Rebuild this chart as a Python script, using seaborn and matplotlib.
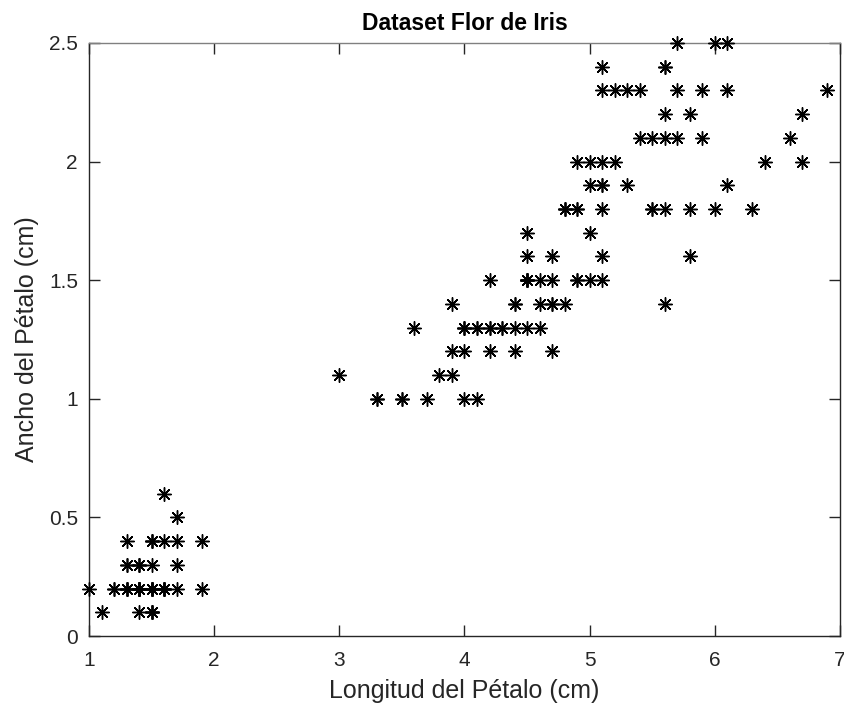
import matplotlib
matplotlib.use("Agg")
import matplotlib.pyplot as plt
import seaborn as sns
import pandas as pd

petal_length = [
    1.4, 1.4, 1.3, 1.5, 1.4, 1.7, 1.4, 1.5, 1.4, 1.5,
    1.5, 1.6, 1.4, 1.1, 1.2, 1.5, 1.3, 1.4, 1.7, 1.5,
    1.7, 1.5, 1.0, 1.7, 1.9, 1.6, 1.6, 1.5, 1.4, 1.6,
    1.6, 1.5, 1.5, 1.4, 1.5, 1.2, 1.3, 1.5, 1.3, 1.5,
    1.3, 1.3, 1.3, 1.6, 1.9, 1.4, 1.6, 1.4, 1.5, 1.4,
    4.7, 4.5, 4.9, 4.0, 4.6, 4.5, 4.7, 3.3, 4.6, 3.9,
    3.5, 4.2, 4.0, 4.7, 3.6, 4.4, 4.5, 4.1, 4.5, 3.9,
    4.8, 4.0, 4.9, 4.7, 4.3, 4.4, 4.8, 5.0, 4.5, 3.5,
    3.8, 3.7, 3.9, 5.1, 4.5, 4.5, 4.7, 4.4, 4.1, 4.0,
    4.4, 4.6, 4.0, 3.3, 4.2, 4.2, 4.2, 4.3, 3.0, 4.1,
    6.0, 5.1, 5.9, 5.6, 5.8, 6.6, 4.5, 6.3, 5.8, 6.1,
    5.1, 5.3, 5.5, 5.0, 5.1, 5.3, 5.5, 6.7, 6.9, 5.0,
    5.7, 4.9, 6.7, 4.9, 5.7, 6.0, 4.8, 4.9, 5.6, 5.8,
    6.1, 6.4, 5.6, 5.1, 5.6, 6.1, 5.6, 5.5, 4.8, 5.4,
    5.6, 5.1, 5.1, 5.9, 5.7, 5.2, 5.0, 5.2, 5.4, 5.1,
]
petal_width = [
    0.2, 0.2, 0.2, 0.2, 0.2, 0.4, 0.3, 0.2, 0.2, 0.1,
    0.2, 0.2, 0.1, 0.1, 0.2, 0.4, 0.4, 0.3, 0.3, 0.3,
    0.2, 0.4, 0.2, 0.5, 0.2, 0.2, 0.4, 0.2, 0.2, 0.2,
    0.2, 0.4, 0.1, 0.2, 0.1, 0.2, 0.2, 0.1, 0.2, 0.2,
    0.3, 0.3, 0.2, 0.6, 0.4, 0.3, 0.2, 0.2, 0.2, 0.2,
    1.4, 1.5, 1.5, 1.3, 1.5, 1.3, 1.6, 1.0, 1.3, 1.4,
    1.0, 1.5, 1.0, 1.4, 1.3, 1.4, 1.5, 1.0, 1.5, 1.1,
    1.8, 1.3, 1.5, 1.2, 1.3, 1.4, 1.4, 1.7, 1.5, 1.0,
    1.1, 1.0, 1.2, 1.6, 1.5, 1.6, 1.5, 1.3, 1.3, 1.3,
    1.2, 1.4, 1.2, 1.0, 1.3, 1.2, 1.3, 1.3, 1.1, 1.3,
    2.5, 1.9, 2.1, 1.8, 2.2, 2.1, 1.7, 1.8, 1.8, 2.5,
    2.0, 1.9, 2.1, 2.0, 2.4, 2.3, 1.8, 2.2, 2.3, 1.5,
    2.3, 2.0, 2.0, 1.8, 2.1, 1.8, 1.8, 1.8, 2.1, 1.6,
    1.9, 2.0, 2.2, 1.5, 1.4, 2.3, 2.4, 1.8, 1.8, 2.1,
    2.4, 2.3, 1.9, 2.3, 2.5, 2.3, 1.9, 2.0, 2.3, 1.8,
]
x_ticks = [1, 2, 3, 4, 5, 6, 7]
y_ticks = [0, 0.5, 1, 1.5, 2, 2.5]
y_tick_labels = ["0", "0.5", "1", "1.5", "2", "2.5"]
title = "Dataset Flor de Iris"
x_label = "Longitud del Pétalo (cm)"
y_label = "Ancho del Pétalo (cm)"

df = pd.DataFrame({"largo": petal_length, "ancho": petal_width})

sns.set_theme(style="white")
plt.rcParams["font.family"] = ["Liberation Sans", "DejaVu Sans"]
txt = "#262626"

fig = plt.figure(figsize=(8.45, 7.09), dpi=100)
ax = fig.add_axes([89 / 845, 1 - 636 / 709, (840 - 89) / 845, (636 - 43) / 709])

sns.scatterplot(data=df, x="largo", y="ancho", ax=ax, marker=(8, 2, 0),
                color="black", s=95, linewidth=1.05, clip_on=False, zorder=3)

ax.set_xlim(1, 7)
ax.set_ylim(0, 2.5)
ax.set_xticks(x_ticks)
ax.set_xticklabels([str(t) for t in x_ticks])
ax.set_yticks(y_ticks)
ax.set_yticklabels(y_tick_labels)
ax.tick_params(direction="in", length=8, width=1, colors=txt, labelsize=15,
               top=True, right=True, bottom=True, left=True, pad=8)
ax.tick_params(axis="x", pad=11)
for name, sp in ax.spines.items():
    sp.set_visible(True)
    sp.set_linewidth(1)
    sp.set_color(txt)
ax.spines["top"].set_color("#808080")

ax.set_title(title, fontsize=16.5, fontweight="bold", color="black", pad=9)
ax.set_xlabel(x_label, fontsize=18, color=txt, labelpad=6)
ax.set_ylabel(y_label, fontsize=18, color=txt, labelpad=7)

fig.savefig("out.png", dpi=100)
